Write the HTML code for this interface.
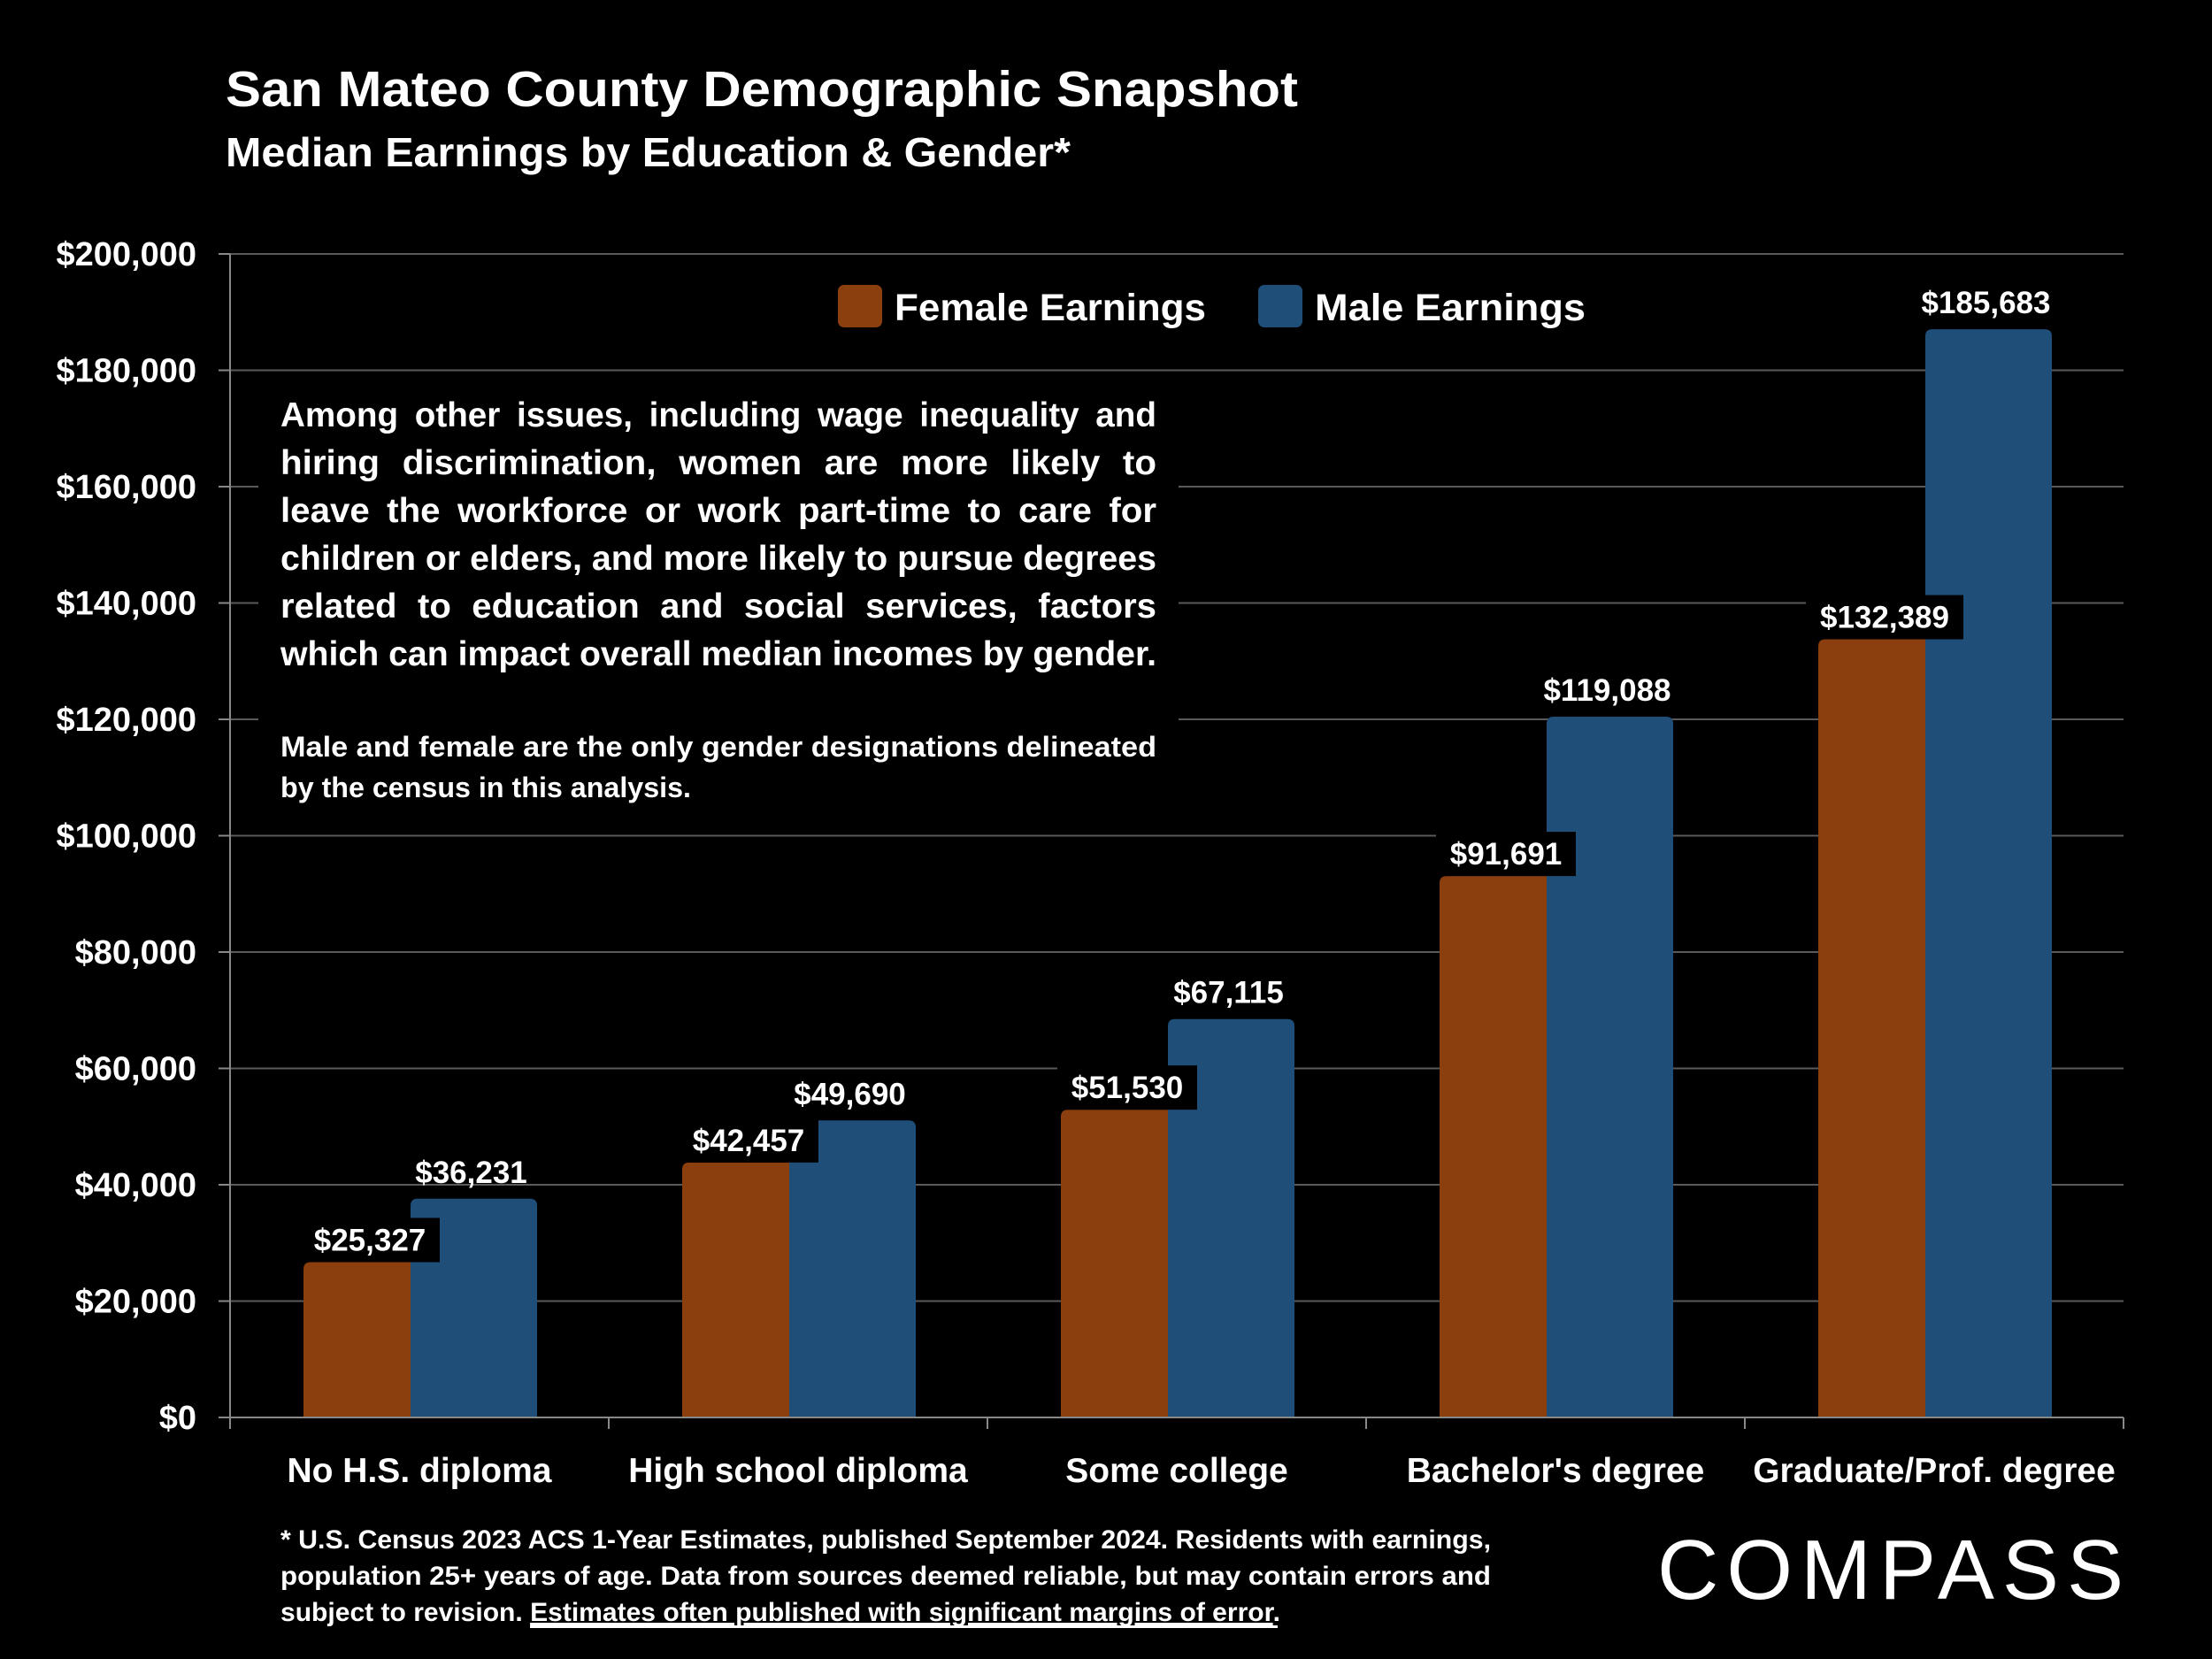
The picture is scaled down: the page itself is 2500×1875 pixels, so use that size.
<!DOCTYPE html>
<html><head><meta charset="utf-8"><style>
html,body{margin:0;padding:0;background:#000;}
svg{display:block;}
text{font-family:"Liberation Sans",sans-serif;fill:#fff;font-weight:bold;}
</style></head>
<body>
<svg id="chart" xmlns="http://www.w3.org/2000/svg" width="2500" height="1875" viewBox="0 0 2500 1875">
<rect width="2500" height="1875" fill="#000"/>
<text x="255" y="120" font-size="57" textLength="1212" lengthAdjust="spacingAndGlyphs">San Mateo County Demographic Snapshot</text>
<text x="255" y="188" font-size="46" textLength="955" lengthAdjust="spacingAndGlyphs">Median Earnings by Education &amp; Gender*</text>
<g id="grid"></g>
<g id="yaxis"></g>
<rect x="292" y="430" width="1040" height="510" fill="#000"/>
<g id="bars"></g>
<g id="labels"></g>
<g id="xaxis"></g>
<g>
  <rect x="947" y="322" width="50" height="48" rx="7" fill="#8B3E0E"/>
  <text x="1011" y="362" font-size="43" textLength="352" lengthAdjust="spacingAndGlyphs">Female Earnings</text>
  <rect x="1422" y="322" width="50" height="48" rx="7" fill="#1F4E79"/>
  <text x="1486" y="362" font-size="43" textLength="306" lengthAdjust="spacingAndGlyphs">Male Earnings</text>
</g>
<g font-size="39">
  <text x="317" y="482" textLength="990" lengthAdjust="spacingAndGlyphs" word-spacing="8">Among other issues, including wage inequality and</text>
  <text x="317" y="536" textLength="990" lengthAdjust="spacingAndGlyphs" word-spacing="14">hiring discrimination, women are more likely to</text>
  <text x="317" y="590" textLength="990" lengthAdjust="spacingAndGlyphs" word-spacing="8">leave the workforce or work part-time to care for</text>
  <text x="317" y="644" textLength="990" lengthAdjust="spacingAndGlyphs">children or elders, and more likely to pursue degrees</text>
  <text x="317" y="698" textLength="990" lengthAdjust="spacingAndGlyphs" word-spacing="12">related to education and social services, factors</text>
  <text x="317" y="752" textLength="990" lengthAdjust="spacingAndGlyphs">which can impact overall median incomes by gender.</text>
  <text x="317" y="855" font-size="32" textLength="990" lengthAdjust="spacingAndGlyphs">Male and female are the only gender designations delineated</text>
  <text x="317" y="901" font-size="32" textLength="464" lengthAdjust="spacingAndGlyphs">by the census in this analysis.</text>
</g>
<g font-size="30">
  <text x="317" y="1750" textLength="1368" lengthAdjust="spacingAndGlyphs">* U.S. Census 2023 ACS 1-Year Estimates, published September 2024. Residents with earnings,</text>
  <text x="317" y="1791" textLength="1368" lengthAdjust="spacingAndGlyphs">population 25+ years of age. Data from sources deemed reliable, but may contain errors and</text>
  <text x="317" y="1832" textLength="1130" lengthAdjust="spacingAndGlyphs">subject to revision. <tspan text-decoration="underline">Estimates often published with significant margins of error</tspan>.</text>
  <rect x="599" y="1837" width="845" height="3" fill="#fff"/>
</g>
<text x="1873" y="1807" font-size="96" style="font-weight:normal" textLength="527" lengthAdjust="spacing">COMPASS</text>
</svg>
<script>
const categories = ["No H.S. diploma","High school diploma","Some college","Bachelor's degree","Graduate/Prof. degree"];
const femaleValues = [25327,42457,51530,91691,132389];
const maleValues = [36231,49690,67115,119088,185683];
const yTicks = [0,20000,40000,60000,80000,100000,120000,140000,160000,180000,200000];

const NS = "http://www.w3.org/2000/svg";
const L = 260, R = 2400, Y0 = 1602, YT = 287, YMAX = 200000;
const catW = (R - L) / categories.length;
function y(v){ return Y0 - (v / YMAX) * (Y0 - YT); }
function xCat(i){ return L + i * catW; }
function fmt(v){ return "$" + v.toLocaleString("en-US"); }
function mk(tag, attrs, parent){ const e = document.createElementNS(NS, tag); for (const k in attrs) e.setAttribute(k, attrs[k]); parent.appendChild(e); return e; }

const grid = document.getElementById("grid"), yaxis = document.getElementById("yaxis");
yTicks.forEach(t => {
  const gl = mk("line", {x1: L, x2: R, y1: y(t), y2: y(t), stroke: "#5a5a5a", "stroke-width": 2}, grid);
  
  
  const tk = mk("line", {x1: L - 13, x2: L, y1: y(t), y2: y(t), stroke: "#888", "stroke-width": 2}, yaxis);
  
  
  const tl = mk("text", {x: 222, y: y(t) + 13, "font-size": 38, "text-anchor": "end"}, yaxis);
  
  
  tl.textContent = fmt(t);
});
const ax = mk("line", {x1: L, x2: L, y1: YT, y2: Y0 + 13, stroke: "#888", "stroke-width": 2}, yaxis);



const bars = document.getElementById("bars"), labels = document.getElementById("labels"), xaxis = document.getElementById("xaxis");
function barPath(x, w, top, r){ return `M${x},${Y0} L${x},${top + r} Q${x},${top} ${x + r},${top} L${x + w - r},${top} Q${x + w},${top} ${x + w},${top + r} L${x + w},${Y0} Z`; }
categories.forEach((c, i) => {
  const x0 = xCat(i), fx = x0 + 83, mx = x0 + 204, w = 143;
  const fTop = y(femaleValues[i]) - 9, mTop = y(maleValues[i]) - 9;
  const fb = mk("path", {d: barPath(fx, w, fTop, 8), fill: "#8B3E0E"}, bars);
  
  
  const mb = mk("path", {d: barPath(mx, w, mTop, 8), fill: "#1F4E79"}, bars);
  
  
  const ml = mk("text", {x: mx + w / 2 - 3, y: mTop - 18, "font-size": 35, "text-anchor": "middle"}, labels);
  
  
  ml.textContent = fmt(maleValues[i]);
  const txt = fmt(femaleValues[i]);
  const tw = txt.length * 20 + 18;
  const cx = fx + 75;
  const box = mk("rect", {x: cx - tw / 2, y: fTop - 50, width: tw, height: 50, fill: "#000"}, labels);
  
  
  const fl = mk("text", {x: cx, y: fTop - 13, "font-size": 35, "text-anchor": "middle"}, labels);
  
  
  fl.textContent = txt;
  const xl = mk("text", {x: x0 + catW / 2, y: 1675, "font-size": 39, "text-anchor": "middle"}, xaxis);
  
  
  xl.textContent = c;
});
for (let i = 0; i <= categories.length; i++) {
  const t = mk("line", {x1: xCat(i), x2: xCat(i), y1: Y0, y2: Y0 + 13, stroke: "#888", "stroke-width": 2}, xaxis);
  
  
}
const xl0 = mk("line", {x1: L, x2: R, y1: Y0, y2: Y0, stroke: "#888", "stroke-width": 2}, xaxis);


</script>
</body></html>
